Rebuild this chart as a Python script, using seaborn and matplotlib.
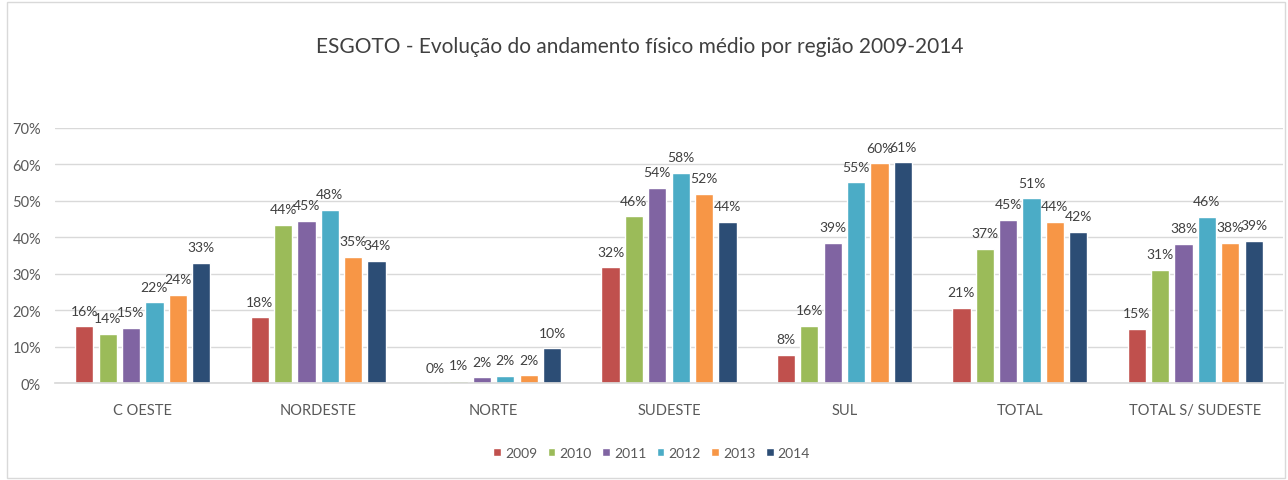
import matplotlib
matplotlib.use("Agg")
import matplotlib.pyplot as plt
import seaborn as sns
import pandas as pd
from matplotlib.patches import Rectangle

regions = ["C OESTE", "NORDESTE", "NORTE", "SUDESTE", "SUL", "TOTAL", "TOTAL S/ SUDESTE"]
years = ["2009", "2010", "2011", "2012", "2013", "2014"]
v2009 = [0.156, 0.181, 0.000, 0.318, 0.077, 0.207, 0.149]
v2010 = [0.136, 0.435, 0.007, 0.458, 0.158, 0.368, 0.312]
v2011 = [0.152, 0.446, 0.016, 0.536, 0.386, 0.449, 0.382]
v2012 = [0.222, 0.475, 0.021, 0.577, 0.551, 0.507, 0.457]
v2013 = [0.242, 0.347, 0.022, 0.519, 0.603, 0.443, 0.385]
v2014 = [0.330, 0.335, 0.096, 0.442, 0.606, 0.415, 0.390]
colors = ["#C0504D", "#9BBB59", "#8064A2", "#4BACC6", "#F79646", "#2C4D75"]
title = "ESGOTO - Evolução do andamento físico médio por região 2009-2014"

series = [v2009, v2010, v2011, v2012, v2013, v2014]
rows = []
for y, vals in zip(years, series):
    for r, v in zip(regions, vals):
        rows.append({"regiao": r, "ano": y, "valor": v})
df = pd.DataFrame(rows)

sns.set_theme(style="white")
plt.rcParams["font.family"] = ["Lato", "DejaVu Sans"]

W, H = 1288, 481
fig = plt.figure(figsize=(W / 100, H / 100), dpi=100)
ax = fig.add_axes([55 / W, 1 - 384.3 / H, (1283 - 55) / W, (384.3 - 129) / H])

sns.barplot(data=df, x="regiao", y="valor", hue="ano", order=regions, hue_order=years,
            palette=colors, width=0.8, gap=0.22, saturation=1, ax=ax, legend=True)

ax.set_ylim(0, 0.7)
ax.set_xlim(-0.5, 6.5)
ax.set_yticks([i / 10 for i in range(8)])
ax.set_yticklabels([f"{i*10}%" for i in range(8)], fontsize=10.5, color="#595959")
ax.tick_params(axis="x", labelsize=10.5, labelcolor="#595959", length=0, pad=14)
ax.tick_params(axis="y", length=0, pad=10)
ax.set_xlabel("")
ax.set_ylabel("")
ax.grid(axis="y", color="#D9D9D9", linewidth=1)
ax.set_axisbelow(True)
for s in ["top", "right", "left"]:
    ax.spines[s].set_visible(False)
ax.spines["bottom"].set_color("#D9D9D9")

for cont in ax.containers:
    ax.bar_label(cont, fmt=lambda v: f"{v:.0%}", padding=7, fontsize=10, color="#404040")

handles, labels = ax.get_legend_handles_labels()
ax.legend(handles, labels, loc="center", bbox_to_anchor=(0.506, 1 - 454 / H),
          bbox_transform=fig.transFigure, ncol=6, frameon=False, fontsize=10,
          handlelength=0.55, handleheight=0.55, handletextpad=0.3, columnspacing=0.75,
          labelcolor="#595959")

fig.text(0.497, 1 - 47 / H, title, ha="center", va="center", fontsize=15, color="#404040")

fig.patches.append(Rectangle((7 / W, 2 / H), (1285 - 7) / W, (478 - 2) / H,
                             transform=fig.transFigure, fill=False,
                             edgecolor="#D9D9D9", linewidth=1))

fig.savefig("out.png", dpi=100)
